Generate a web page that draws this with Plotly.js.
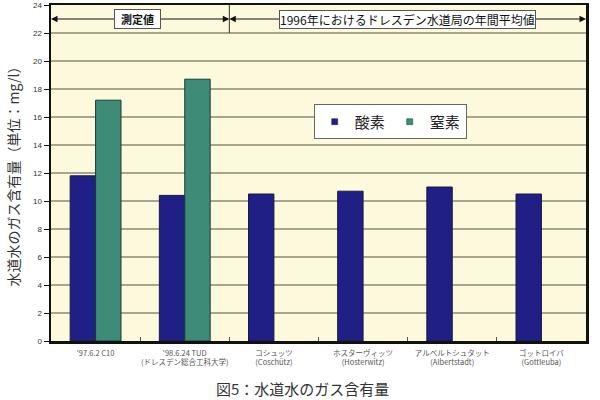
<!DOCTYPE html>
<html>
<head>
<meta charset="utf-8">
<script src="https://cdn.plot.ly/plotly-3.0.1.min.js"></script>
<style>html,body{margin:0;padding:0;background:#fff;}#chart{width:600px;height:400px;}</style>
</head>
<body>
<div id="chart"></div>
<script>
const categories = [
  "'97.6.2 C10",
  "'98.6.24 TUD<br>(ドレスデン総合工科大学)",
  "コシュッツ<br>(Coschütz)",
  "ホスターヴィッツ<br>(Hosterwitz)",
  "アルベルトシュタット<br>(Albertstadt)",
  "ゴットロイバ<br>(Gottleuba)"
];
const oxygen = [11.8, 10.4, 10.5, 10.7, 11.0, 10.5];
const nitrogen = [17.2, 18.7, null, null, null, null];
const seriesNames = ["酸素", "窒素"];
const seriesColors = ['#1f1f86', '#3e8b78'];
const yTicks = [0, 2, 4, 6, 8, 10, 12, 14, 16, 18, 20, 22, 24];
const sectionLabels = ["測定値", "1996年におけるドレスデン水道局の年間平均値"];

const jp = '"Noto Sans CJK JP", "Noto Sans", sans-serif';

const traces = [
  {type: 'bar', name: seriesNames[0], x: categories, y: oxygen, showlegend: false,
   marker: {color: seriesColors[0], line: {color: '#1a1a3a', width: 1}}},
  {type: 'bar', name: seriesNames[1], x: categories, y: nitrogen, showlegend: false,
   marker: {color: seriesColors[1], line: {color: '#1a3a30', width: 1}}},
  {type: 'scatter', mode: 'markers', name: seriesNames[0], x: [null], y: [null],
   marker: {symbol: 'square', size: 6, color: seriesColors[0], line: {color: '#1a1a3a', width: 0.5}}},
  {type: 'scatter', mode: 'markers', name: seriesNames[1], x: [null], y: [null],
   marker: {symbol: 'square', size: 6, color: seriesColors[1], line: {color: '#1a3a30', width: 0.5}}}
];

const arrowBase = {xref: 'x', yref: 'y', axref: 'x', ayref: 'y', text: '', showarrow: true,
                   arrowhead: 2, arrowsize: 1.3, arrowwidth: 1, arrowcolor: '#111'};
const annotations = [
  Object.assign({x: -0.5, y: 23, ax: 0.5, ay: 23}, arrowBase),
  Object.assign({x: 1.5, y: 23, ax: 0.5, ay: 23}, arrowBase),
  Object.assign({x: 1.5, y: 23, ax: 3.5, ay: 23}, arrowBase),
  Object.assign({x: 5.5, y: 23, ax: 3.5, ay: 23}, arrowBase),
  {x: 0.47, y: 23, xref: 'x', yref: 'y', text: '&nbsp;&nbsp;<b>' + sectionLabels[0] + '</b>&nbsp;&nbsp;', showarrow: false,
   font: {family: jp, size: 11, color: '#111'}, bgcolor: '#ffffff', bordercolor: '#555', borderwidth: 1, borderpad: 1},
  {x: 3.5, y: 23, xref: 'x', yref: 'y', text: sectionLabels[1], showarrow: false,
   font: {family: jp, size: 12, color: '#111'}, bgcolor: '#ffffff', bordercolor: '#555', borderwidth: 1, borderpad: 0},
  {x: 0.47, y: -0.14, xref: 'paper', yref: 'paper', text: '図5：水道水のガス含有量', showarrow: false,
   xanchor: 'center', yanchor: 'middle', font: {family: jp, size: 15, color: '#333'}}
];

const layout = {
  width: 600, height: 400,
  margin: {l: 51, r: 14, t: 5, b: 59, pad: 0},
  paper_bgcolor: '#ffffff',
  plot_bgcolor: '#fdf9dc',
  barmode: 'group',
  bargap: 0.43,
  bargroupgap: 0,
  showlegend: true,
  legend: {orientation: 'h', x: 0.634, y: 0.652, xanchor: 'center', yanchor: 'middle',
           bgcolor: '#ffffff', bordercolor: '#666', borderwidth: 1,
           font: {family: jp, size: 15, color: '#222'}, itemwidth: 30, tracegroupgap: 0},
  xaxis: {type: 'category', range: [-0.5, 5.5], showgrid: false, tickangle: 0,
          showline: true, linecolor: '#111', linewidth: 2.5, mirror: true,
          ticks: 'inside', tickson: 'boundaries', ticklen: 4, tickcolor: '#555',
          ticklabelstandoff: 3,
          tickfont: {family: jp, size: 7.5, color: '#555'}},
  yaxis: {range: [0, 24], tickvals: yTicks, ticks: 'outside', ticklen: 5, tickcolor: '#111',
          showline: true, linecolor: '#111', linewidth: 2.5, mirror: true,
          showgrid: true, gridcolor: '#a9a68e', gridwidth: 1.5, zeroline: false,
          tickfont: {family: 'Arial, "Liberation Sans", sans-serif', size: 8, color: '#333'},
          title: {text: '水道水のガス含有量（単位：mg/l）', standoff: 10,
                  font: {family: jp, size: 14, color: '#333'}}},
  shapes: [
    {type: 'line', xref: 'x', yref: 'y', x0: 1.5, x1: 1.5, y0: 22, y1: 24, line: {color: '#333', width: 1}}
  ],
  annotations: annotations
};

Plotly.newPlot('chart', traces, layout, {displayModeBar: false, staticPlot: true});
</script>
</body>
</html>
